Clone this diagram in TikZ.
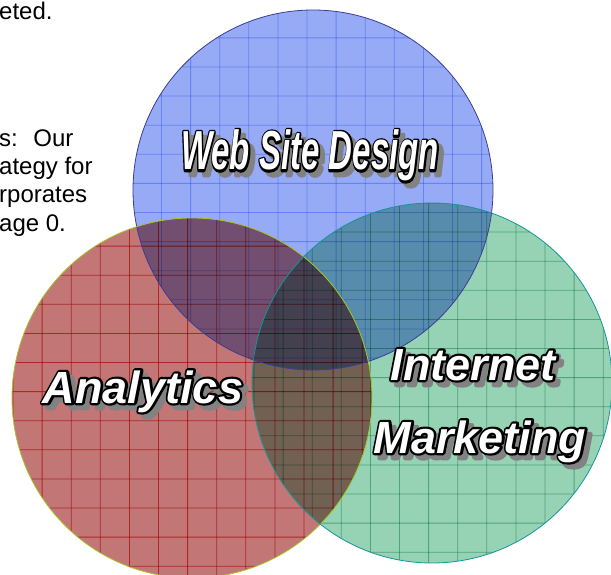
\documentclass[tikz,border=0pt]{standalone}
\usepackage{fontspec}
\setmainfont{Liberation Sans}

\definecolor{webfill}{RGB}{150,170,245}
\definecolor{webgrid}{RGB}{175,198,252}
\definecolor{webedge}{RGB}{60,60,150}
\definecolor{anafill}{RGB}{195,118,118}
\definecolor{anagrid}{RGB}{225,90,90}
\definecolor{anaedge}{RGB}{165,200,40}
\definecolor{mktfill}{RGB}{150,210,180}
\definecolor{mktgrid}{RGB}{140,200,175}
\definecolor{mktedge}{RGB}{20,150,150}
\definecolor{shadowgray}{RGB}{130,130,130}

% text filled and stroked in the current colour (render mode 2)
\newcommand\strokedtext[1]{\special{pdf:literal direct 2 Tr 4.5 w 1 j}#1\special{pdf:literal direct 0 Tr 1 w 0 j}}

% outlined label with a drop shadow: name, position, text
\newcommand\vennlabel[3]{%
  \node[labeltext,text=shadowgray,xshift=5pt,yshift=-5pt] (#1-shadow) at (#2) {\strokedtext{#3}};
  \node[labeltext,text=black] (#1-outline) at (#2) {\strokedtext{#3}};
  \node[labeltext,text=white] (#1) at (#2) {#3};
}

\begin{document}
\begin{tikzpicture}[x=1pt,y=-1pt,
        bodytext/.style={anchor=base west,inner sep=0pt,font=\fontsize{24}{28}\selectfont},
        labeltext/.style={anchor=base,inner sep=0pt,font=\fontsize{45}{45}\selectfont\bfseries\itshape}
    ]
    \useasboundingbox (0,0) rectangle (611,575);

    \node[bodytext] (line1) at (-1,20) {eted.};
    \node[bodytext] (line2) at (-1,147) {s:~ Our};
    \node[bodytext] (line3) at (-1,175) {ategy for};
    \node[bodytext] (line4) at (-1,203) {rporates};
    \node[bodytext] (line5) at (-1,232) {age 0.};

    % the three discs, each with its own grid
    \begin{scope}[blend group=multiply]
        \foreach \cx/\cy/\gx/\gy/\cname in {313/190/132.4/8.8/web, 192/398/13/217/ana, 432/383/254/203/mkt} {
            \begin{scope}
                \clip (\cx,\cy) circle (180);
                \fill[\cname fill] (\cx,\cy) circle (180);
                \foreach \k in {0,...,13} {
                    \draw[\cname grid,line width=0.8pt] ({\gx+29.1*\k},{\cy-180}) -- ++(0,360);
                    \draw[\cname grid,line width=0.8pt] ({\cx-180},{\gy+29.1*\k}) -- ++(360,0);
                }
            \end{scope}
        }
    \end{scope}
    \foreach \cx/\cy/\cname in {313/190/web, 192/398/ana, 432/383/mkt}
        \draw[\cname edge,line width=0.8pt] (\cx,\cy) circle (180);

    \vennlabel{web}{310,170}{\fontsize{55}{55}\selectfont\scalebox{0.6}[1]{Web Site Design}}
    \vennlabel{ana}{143,403}{Analytics}
    \vennlabel{internet}{473,380}{Internet}
    \vennlabel{marketing}{480,453}{Marketing}

\end{tikzpicture}
\end{document}
